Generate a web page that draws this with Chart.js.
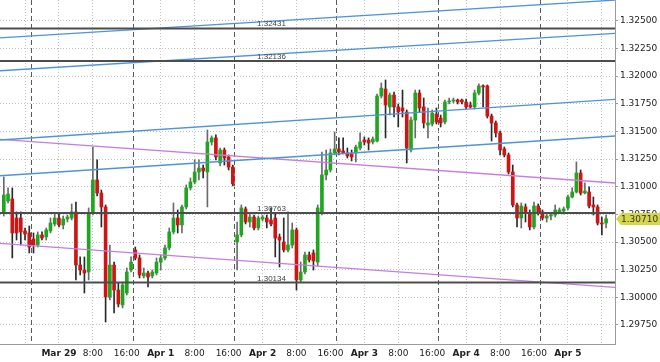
<!DOCTYPE html>
<html>
<head>
<meta charset="utf-8">
<script src="https://cdn.jsdelivr.net/npm/chart.js@4/dist/chart.umd.min.js"></script>
<style>
  html, body { margin: 0; padding: 0; background: #fff; }
  #wrap { position: relative; width: 660px; height: 362px; }
</style>
</head>
<body>
<div id="wrap"><canvas id="chart"></canvas></div>
<script>
// hourly bars; x = trading hour counted from Mar 28 00:00, weekend hours skipped
var firstHour = 11;

var openPrices = [
  1.30763, 1.30871, 1.30889, 1.30717, 1.30717, 1.30600, 1.30582, 1.30527, 1.30473, 1.30564,
  1.30546, 1.30600, 1.30663, 1.30717, 1.30654, 1.30708, 1.30717, 1.30772, 1.30292, 1.30247,
  1.30229, 1.30763, 1.31061, 1.30943, 1.30817, 1.30003, 1.30292, 1.30066, 1.29931, 1.30039,
  1.30247, 1.30428, 1.30356, 1.30193, 1.30220, 1.30193, 1.30220, 1.30319, 1.30356, 1.30446,
  1.30591, 1.30717, 1.30654, 1.30817, 1.30989, 1.31043, 1.31133, 1.31169, 1.31133, 1.31404,
  1.31441, 1.31215, 1.31332, 1.31269, 1.31178, 1.30500, 1.30564, 1.30799, 1.30681, 1.30726,
  1.30627, 1.30708, 1.30717, 1.30699, 1.30717, 1.30546, 1.30500, 1.30428, 1.30473, 1.30609,
  1.30157, 1.30229, 1.30383, 1.30401, 1.30319, 1.30763, 1.31106, 1.31151, 1.31305, 1.31341,
  1.31323, 1.31305, 1.31296, 1.31305, 1.31350, 1.31422, 1.31422, 1.31404, 1.31413, 1.31820,
  1.31883, 1.31721, 1.31829, 1.31721, 1.31712, 1.31676, 1.31332, 1.31603, 1.31847, 1.31721,
  1.31558, 1.31567, 1.31657, 1.31621, 1.31585, 1.31766, 1.31775, 1.31784, 1.31784, 1.31766,
  1.31739, 1.31721, 1.31847, 1.31911, 1.31911, 1.31639, 1.31576, 1.31486, 1.31341, 1.31287,
  1.31133, 1.30835, 1.30717, 1.30817, 1.30763, 1.30636, 1.30826, 1.30772, 1.30717, 1.30735,
  1.30744, 1.30772, 1.30781, 1.30808, 1.30907, 1.30952, 1.31124, 1.30943, 1.30952, 1.30835,
  1.30817, 1.30672, 1.30672
];
var highPrices = [
  1.31088, 1.30989, 1.30989, 1.30772, 1.30772, 1.30627, 1.30645, 1.30582, 1.30591, 1.30591,
  1.30627, 1.30717, 1.30753, 1.30753, 1.30735, 1.30744, 1.30844, 1.30862, 1.30365, 1.30365,
  1.30808, 1.31359, 1.31242, 1.30970, 1.30835, 1.30473, 1.30319, 1.30130, 1.30139, 1.30265,
  1.30365, 1.30455, 1.30383, 1.30265, 1.30238, 1.30247, 1.30356, 1.30383, 1.30473, 1.30627,
  1.30853, 1.30790, 1.30835, 1.31016, 1.31079, 1.31242, 1.31242, 1.31196, 1.31513, 1.31459,
  1.31468, 1.31350, 1.31350, 1.31287, 1.31196, 1.30681, 1.30835, 1.30817, 1.30763, 1.30744,
  1.30735, 1.30744, 1.30744, 1.30808, 1.30753, 1.30573, 1.30717, 1.30772, 1.30672, 1.30627,
  1.30319, 1.30410, 1.30410, 1.30428, 1.30835, 1.31314, 1.31332, 1.31341, 1.31495, 1.31441,
  1.31441, 1.31350, 1.31332, 1.31377, 1.31486, 1.31450, 1.31441, 1.31450, 1.31838, 1.31938,
  1.31965, 1.31847, 1.31856, 1.31748, 1.31874, 1.31694, 1.31630, 1.31874, 1.31874, 1.31802,
  1.31712, 1.31694, 1.31712, 1.31648, 1.31784, 1.31802, 1.31802, 1.31793, 1.31793, 1.31793,
  1.31766, 1.31874, 1.31929, 1.31920, 1.31920, 1.31657, 1.31594, 1.31504, 1.31359, 1.31305,
  1.31196, 1.30853, 1.30853, 1.30844, 1.30790, 1.30862, 1.30844, 1.30790, 1.30753, 1.30763,
  1.30835, 1.30808, 1.30817, 1.30925, 1.30989, 1.31224, 1.31151, 1.31034, 1.30998, 1.30907,
  1.30835, 1.30726, 1.30744
];
var lowPrices = [
  1.30735, 1.30853, 1.30356, 1.30518, 1.30473, 1.30518, 1.30401, 1.30401, 1.30455, 1.30518,
  1.30518, 1.30582, 1.30645, 1.30636, 1.30618, 1.30681, 1.30699, 1.30157, 1.30202, 1.30039,
  1.30157, 1.30744, 1.30916, 1.30636, 1.29777, 1.29976, 1.29858, 1.29913, 1.29904, 1.30021,
  1.30229, 1.30338, 1.30175, 1.30175, 1.30094, 1.30175, 1.30202, 1.30247, 1.30338, 1.30428,
  1.30573, 1.30582, 1.30582, 1.30799, 1.30970, 1.31025, 1.31061, 1.31079, 1.30817, 1.31377,
  1.31242, 1.31187, 1.31196, 1.31151, 1.31007, 1.30247, 1.30546, 1.30663, 1.30636, 1.30609,
  1.30609, 1.30690, 1.30627, 1.30645, 1.30365, 1.30274, 1.30410, 1.30410, 1.30446, 1.30066,
  1.30139, 1.30211, 1.30319, 1.30247, 1.30283, 1.30744, 1.31061, 1.31133, 1.31287, 1.31287,
  1.31296, 1.31260, 1.31233, 1.31224, 1.31332, 1.31377, 1.31332, 1.31386, 1.31404, 1.31802,
  1.31441, 1.31648, 1.31630, 1.31540, 1.31630, 1.31215, 1.31314, 1.31441, 1.31676, 1.31531,
  1.31441, 1.31549, 1.31567, 1.31540, 1.31567, 1.31748, 1.31757, 1.31748, 1.31748, 1.31703,
  1.31712, 1.31703, 1.31829, 1.31721, 1.31621, 1.31413, 1.31450, 1.31287, 1.31269, 1.31115,
  1.30817, 1.30636, 1.30627, 1.30681, 1.30609, 1.30618, 1.30744, 1.30699, 1.30681, 1.30699,
  1.30726, 1.30763, 1.30753, 1.30790, 1.30898, 1.30943, 1.30925, 1.30934, 1.30808, 1.30744,
  1.30654, 1.30564, 1.30627
];
var closePrices = [
  1.30925, 1.30934, 1.30582, 1.30582, 1.30591, 1.30573, 1.30455, 1.30473, 1.30564, 1.30536,
  1.30609, 1.30672, 1.30717, 1.30654, 1.30708, 1.30726, 1.30772, 1.30292, 1.30247, 1.30220,
  1.30763, 1.31061, 1.30943, 1.30817, 1.30003, 1.30292, 1.30066, 1.29940, 1.30112, 1.30229,
  1.30319, 1.30356, 1.30202, 1.30220, 1.30184, 1.30229, 1.30319, 1.30356, 1.30446, 1.30591,
  1.30717, 1.30654, 1.30817, 1.30989, 1.31043, 1.31133, 1.31169, 1.31142, 1.31404, 1.31441,
  1.31269, 1.31332, 1.31260, 1.31178, 1.31025, 1.30564, 1.30808, 1.30681, 1.30726, 1.30627,
  1.30717, 1.30726, 1.30681, 1.30663, 1.30536, 1.30518, 1.30428, 1.30473, 1.30609, 1.30157,
  1.30229, 1.30383, 1.30338, 1.30329, 1.30808, 1.31106, 1.31151, 1.31305, 1.31341, 1.31314,
  1.31305, 1.31278, 1.31269, 1.31359, 1.31404, 1.31404, 1.31395, 1.31431, 1.31820, 1.31892,
  1.31739, 1.31829, 1.31721, 1.31676, 1.31685, 1.31350, 1.31603, 1.31847, 1.31712, 1.31576,
  1.31576, 1.31666, 1.31585, 1.31576, 1.31766, 1.31775, 1.31784, 1.31766, 1.31766, 1.31721,
  1.31721, 1.31847, 1.31911, 1.31902, 1.31639, 1.31576, 1.31486, 1.31332, 1.31287, 1.31133,
  1.30835, 1.30717, 1.30826, 1.30763, 1.30636, 1.30826, 1.30772, 1.30717, 1.30735, 1.30744,
  1.30790, 1.30790, 1.30799, 1.30907, 1.30952, 1.31124, 1.30943, 1.30961, 1.30826, 1.30817,
  1.30672, 1.30663, 1.30710
];

var priceTicks = [1.2975, 1.3000, 1.3025, 1.3050, 1.3075, 1.3100, 1.3125, 1.3150, 1.3175, 1.3200, 1.3225, 1.3250];
var timeTicks = [16, 24, 32, 40, 48, 56, 64, 72, 80, 88, 96, 104, 112, 120, 128, 136, 144, 152];
var timeLabels = ['', 'Mar 29', '8:00', '16:00', 'Apr 1', '8:00', '16:00', 'Apr 2', '8:00', '16:00',
                  'Apr 3', '8:00', '16:00', 'Apr 4', '8:00', '16:00', 'Apr 5', ''];
var separators = [17.5, 41.5, 65.5, 89.5, 113.5, 137.5];

var levels = [1.32431, 1.32136, 1.30763, 1.30134];
var blueStart = [1.32346, 1.32048, 1.31422, 1.31099];
var blueEnd = [1.32687, 1.32386, 1.31790, 1.31458];
var pinkStart = [1.31428, 1.30488];
var pinkEnd = [1.31033, 1.30090];
var lastPrice = 1.30710;

var xMin = 10.1, xMax = 155.1;
var yMin = 1.29578, yMax = 1.32688;

var GREEN = '#20a520';
var RED = '#cf1414';

var wicks = [], bodies = [], bodyColors = [], wickColors = [];
for (var i = 0; i < closePrices.length; i++) {
    var hour = firstHour + i;
    var up = closePrices[i] >= openPrices[i];
    wicks.push({x: hour, y: [lowPrices[i], highPrices[i]]});
    bodies.push({x: hour, y: [openPrices[i], closePrices[i]]});
    bodyColors.push(up ? GREEN : RED);
    wickColors.push(up ? '#6a6a6a' : '#2a2a2a');
}

function segment(a, b) {
    return [{x: xMin, y: a}, {x: xMax, y: b}];
}

function lineSet(points, color, width) {
    return {
        type: 'line', data: points, xAxisID: 'x', yAxisID: 'y',
        borderColor: color, borderWidth: width, pointRadius: 0,
        fill: false, tension: 0, order: 0
    };
}

var datasets = [];
levels.forEach(function (l) { datasets.push(lineSet(segment(l, l), '#4d4d4d', 2)); });
blueStart.forEach(function (s, k) { datasets.push(lineSet(segment(s, blueEnd[k]), '#4f93dc', 1.4)); });
pinkStart.forEach(function (s, k) { datasets.push(lineSet(segment(s, pinkEnd[k]), '#c77ddf', 1.4)); });
datasets.push({
    type: 'bar', data: bodies, xAxisID: 'x', yAxisID: 'y',
    backgroundColor: bodyColors, barThickness: 3, minBarLength: 1,
    grouped: false, order: 1
});
datasets.push({
    type: 'bar', data: wicks, xAxisID: 'x', yAxisID: 'y',
    backgroundColor: wickColors, barThickness: 1, minBarLength: 1,
    grouped: false, order: 2
});

var overlay = {
    id: 'overlay',
    afterDatasetsDraw: function (chart) {
        var ctx = chart.ctx, xs = chart.scales.x, ys = chart.scales.y;
        ctx.save();
        ctx.font = '8px "Liberation Sans"';
        ctx.fillStyle = '#444';
        ctx.textAlign = 'left';
        ctx.textBaseline = 'alphabetic';
        levels.forEach(function (l) {
            ctx.fillText(l.toFixed(5), xs.getPixelForValue(70.7), ys.getPixelForValue(l) - 2);
        });
        ctx.restore();
    },
    afterDraw: function (chart) {
        var ctx = chart.ctx, ys = chart.scales.y;
        var y = Math.round(ys.getPixelForValue(lastPrice));
        var left = chart.chartArea.right + 1;
        ctx.save();
        ctx.fillStyle = '#d3d84b';
        ctx.beginPath();
        ctx.moveTo(left, y);
        ctx.lineTo(left + 5, y - 6);
        ctx.lineTo(chart.width, y - 6);
        ctx.lineTo(chart.width, y + 6);
        ctx.lineTo(left + 5, y + 6);
        ctx.closePath();
        ctx.fill();
        ctx.fillStyle = '#333';
        ctx.font = '9px "DejaVu Sans"';
        ctx.textBaseline = 'middle';
        ctx.fillText(lastPrice.toFixed(5), left + 5, y + 0.5);
        ctx.restore();
    }
};

new Chart(document.getElementById('chart'), {
    type: 'bar',
    data: {datasets: datasets},
    plugins: [overlay],
    options: {
        responsive: true,
        maintainAspectRatio: false,
        animation: false,
        layout: {padding: 0},
        plugins: {legend: {display: false}, tooltip: {enabled: false}},
        scales: {
            x: {
                type: 'linear', position: 'bottom', min: xMin, max: xMax, offset: false,
                afterBuildTicks: function (s) { s.ticks = timeTicks.map(function (v) { return {value: v}; }); },
                afterFit: function (s) { s.height = 18; s.paddingLeft = 0; s.paddingRight = 0; },
                grid: {
                    offset: false,
                    color: function (c) {
                        if (c.tick && c.tick.value > 16 && c.tick.value % 24 === 16) return 'rgba(0,0,0,0)';
                        return '#c2c2c2';
                    },
                    drawTicks: false
                },
                border: {display: true, color: '#9a9a9a', dash: [1, 2]},
                ticks: {
                    autoSkip: false, maxRotation: 0, padding: 4, color: '#222',
                    font: function (c) {
                        var bold = (timeLabels[c.index] || '').indexOf(' ') > 0;
                        return {family: 'DejaVu Sans', size: 9, weight: bold ? 'bold' : 'normal'};
                    },
                    callback: function (v, idx) { return timeLabels[idx]; }
                }
            },
            sep: {
                type: 'linear', position: 'bottom', min: xMin, max: xMax, offset: false,
                afterBuildTicks: function (s) { s.ticks = separators.map(function (v) { return {value: v}; }); },
                afterFit: function (s) { s.height = 0; s.paddingLeft = 0; s.paddingRight = 0; },
                grid: {offset: false, color: '#5a5a5a', drawTicks: false},
                border: {display: false, dash: [5, 3]},
                ticks: {display: false}
            },
            y: {
                type: 'linear', position: 'right', min: yMin, max: yMax,
                afterBuildTicks: function (s) { s.ticks = priceTicks.map(function (v) { return {value: v}; }); },
                afterFit: function (s) { s.width = 45; s.paddingTop = 0; s.paddingBottom = 0; },
                grid: {color: '#c2c2c2', tickColor: '#9a9a9a', tickLength: 3, tickBorderDash: []},
                border: {display: true, color: '#9a9a9a', dash: [1, 2]},
                ticks: {
                    padding: 2, color: '#222',
                    font: {family: 'DejaVu Sans', size: 9},
                    callback: function (v) { return v.toFixed(5); }
                }
            }
        }
    }
});
</script>
</body>
</html>
